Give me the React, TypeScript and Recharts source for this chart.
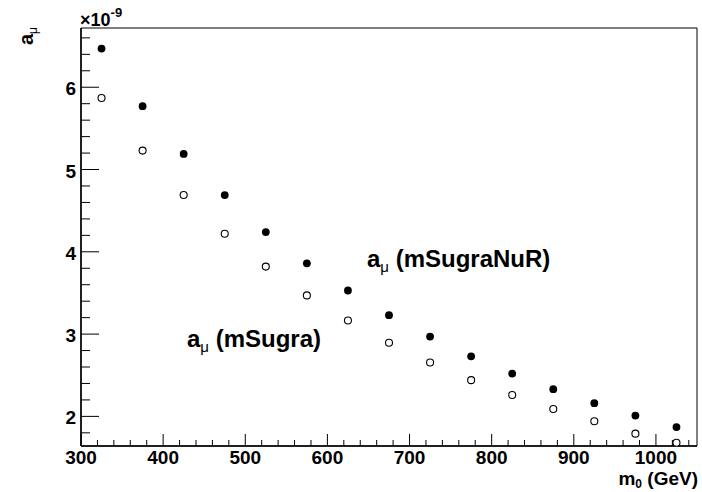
import { ScatterChart, Scatter, XAxis, YAxis, ReferenceArea } from "recharts";

// m0 bin centres (GeV) and a_mu values in units of 1e-9
const m0 = [325, 375, 425, 475, 525, 575, 625, 675, 725, 775, 825, 875, 925, 975, 1025];
const amuNuR = [6.47, 5.77, 5.19, 4.69, 4.24, 3.86, 3.53, 3.23, 2.97, 2.73, 2.52, 2.33, 2.16, 2.01, 1.87];
const amuSugra = [5.87, 5.23, 4.69, 4.22, 3.82, 3.47, 3.165, 2.895, 2.655, 2.44, 2.26, 2.09, 1.94, 1.79, 1.68];

const xTicks = [
  300, 320, 340, 360, 380, 400, 420, 440, 460, 480, 500, 520, 540, 560, 580, 600, 620, 640, 660,
  680, 700, 720, 740, 760, 780, 800, 820, 840, 860, 880, 900, 920, 940, 960, 980, 1000, 1020, 1040,
];
const xLabels = [300, 400, 500, 600, 700, 800, 900, 1000];
const yTicks = [
  1.8, 2, 2.2, 2.4, 2.6, 2.8, 3, 3.2, 3.4, 3.6, 3.8, 4, 4.2, 4.4, 4.6, 4.8, 5, 5.2, 5.4, 5.6, 5.8,
  6, 6.2, 6.4, 6.6,
];
const yLabels = [2, 3, 4, 5, 6];

const nuRData = m0.map((x, i) => ({ m0: x, amu: amuNuR[i] }));
const sugraData = m0.map((x, i) => ({ m0: x, amu: amuSugra[i] }));

const font = "'Liberation Sans', Arial, Helvetica, sans-serif";

const isLabel = (list: number[], v: number) => list.some((l) => Math.abs(l - v) < 1e-6);

function XTick(props: any) {
  const { x, y, payload } = props;
  const major = isLabel(xLabels, payload.value);
  return (
    <g>
      <line x1={x} x2={x} y1={y} y2={y - (major ? 12 : 6)} stroke="#000" strokeWidth={1} />
      {major && (
        <text x={x} y={y + 18} textAnchor="middle" fontFamily={font} fontWeight="bold" fontSize={19} fill="#000">
          {payload.value}
        </text>
      )}
    </g>
  );
}

function YTick(props: any) {
  const { x, y, payload } = props;
  const major = isLabel(yLabels, payload.value);
  return (
    <g>
      <line x1={x} x2={x + (major ? 18 : 9)} y1={y} y2={y} stroke="#000" strokeWidth={1} />
      {major && (
        <text x={x - 5} y={y + 8} textAnchor="end" fontFamily={font} fontWeight="bold" fontSize={19} fill="#000">
          {payload.value}
        </text>
      )}
    </g>
  );
}

const filledDot = (p: any) => <circle cx={p.cx} cy={p.cy} r={3.9} fill="#000" />;
const openDot = (p: any) => <circle cx={p.cx} cy={p.cy} r={3.5} fill="#fff" stroke="#000" strokeWidth={1.1} />;

export default function App() {
  return (
    <div style={{ position: "absolute", left: 0, top: 0, width: 702, height: 492, background: "#fff" }}>
      <ScatterChart width={702} height={492} margin={{ top: 28, right: 5, bottom: 16, left: 41 }}>
        <XAxis
          type="number"
          dataKey="m0"
          domain={[300, 1050]}
          ticks={xTicks}
          interval={0}
          allowDataOverflow
          height={30}
          tickSize={0}
          tickMargin={0}
          tickLine={false}
          axisLine={{ stroke: "#000", strokeWidth: 1.5 }}
          tick={<XTick />}
        />
        <YAxis
          type="number"
          dataKey="amu"
          domain={[1.64, 6.72]}
          ticks={yTicks}
          interval={0}
          allowDataOverflow
          width={40}
          tickSize={0}
          tickMargin={0}
          tickLine={false}
          axisLine={{ stroke: "#000", strokeWidth: 1.5 }}
          tick={<YTick />}
        />
        <ReferenceArea x1={300} x2={1050} y1={1.64} y2={6.72} fill="none" stroke="#000" strokeWidth={1} fillOpacity={0} />
        <Scatter name="mSugraNuR" data={nuRData} shape={filledDot} isAnimationActive={false} />
        <Scatter name="mSugra" data={sugraData} shape={openDot} isAnimationActive={false} />

        <text x={80} y={26} fontFamily={font} fontWeight="bold" fontSize={18} fill="#000">
          ×10
          <tspan dy={-9} fontSize={13}>-9</tspan>
        </text>
        <text
          x={33}
          y={27}
          transform="rotate(-90 33 27)"
          textAnchor="end"
          fontFamily={font}
          fontWeight="bold"
          fontSize={20}
          fill="#000"
        >
          a
          <tspan dy={4} fontSize={12} fontWeight="normal">μ</tspan>
        </text>
        <text x={698} y={485} textAnchor="end" fontFamily={font} fontWeight="bold" fontSize={19} fill="#000">
          m
          <tspan dy={3} fontSize={12}>0</tspan>
          <tspan dy={-3}> (GeV)</tspan>
        </text>
        <text x={367} y={267} fontFamily={font} fontWeight="bold" fontSize={24} fill="#000">
          a
          <tspan dy={5} fontSize={15} fontWeight="normal">μ</tspan>
          <tspan dy={-5}> (mSugraNuR)</tspan>
        </text>
        <text x={187} y={347} fontFamily={font} fontWeight="bold" fontSize={24} fill="#000">
          a
          <tspan dy={5} fontSize={15} fontWeight="normal">μ</tspan>
          <tspan dy={-5}> (mSugra)</tspan>
        </text>
      </ScatterChart>
    </div>
  );
}
